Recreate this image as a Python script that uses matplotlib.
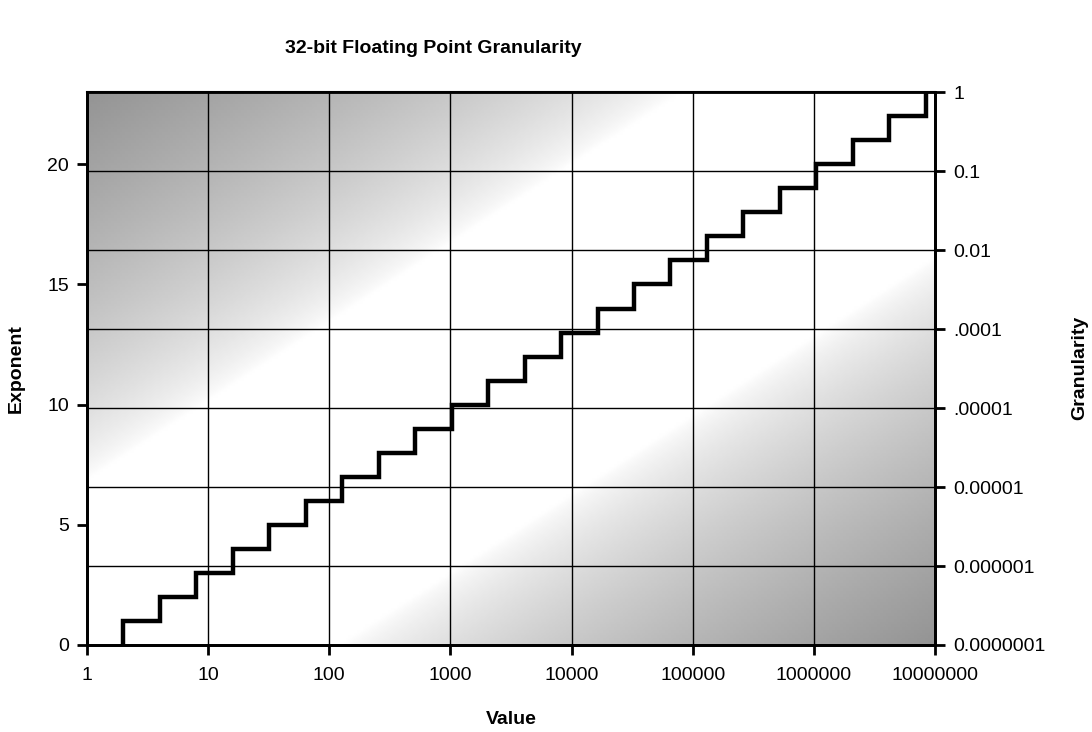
import numpy as np
import matplotlib
matplotlib.use("Agg")
import matplotlib.pyplot as plt
from matplotlib.ticker import FixedLocator, FixedFormatter

# Data
values = [2, 2, 4, 8, 16, 32, 64, 128, 256, 512, 1024, 2048, 4096, 8192, 16384,
          32768, 65536, 131072, 262144, 524288, 1048576, 2097152, 4194304, 8388608,
          8388608]
exponents = [0, 1, 2, 3, 4, 5, 6, 7, 8, 9, 10, 11, 12, 13, 14, 15, 16, 17, 18,
             19, 20, 21, 22, 23, 23]
x_ticks = [1, 10, 100, 1000, 10000, 100000, 1000000, 10000000]
x_labels = ["1", "10", "100", "1000", "10000", "100000", "1000000", "10000000"]
left_ticks = [0, 5, 10, 15, 20]
right_ticks = [1e-7, 1e-6, 1e-5, 1e-4, 1e-3, 1e-2, 1e-1, 1]
right_labels = ["0.0000001", "0.000001", "0.00001", ".00001", ".0001", "0.01", "0.1", "1"]

plt.rcParams['font.family'] = ['Liberation Sans', 'DejaVu Sans']

fig = plt.figure(figsize=(10.92, 7.32), dpi=100)
ax = fig.add_axes([0.0797, 0.1189, 0.7765, 0.7551])

# background shading (grey top-left and bottom-right, light diagonal band)
nx, ny = 300, 200
u = np.linspace(0, 1, nx)[None, :]
v = np.linspace(0, 1, ny)[:, None]
d = np.abs(v - u)
shade = np.clip((d - 0.3) / 0.7, 0, 1) ** 0.7
gray = 1 - 0.42 * shade
ax.imshow(gray, cmap='gray', vmin=0, vmax=1, extent=[0, 1, 0, 1],
          transform=ax.transAxes, origin='lower', aspect='auto', zorder=0,
          interpolation='bilinear')

ax.set_xscale('log')
ax.set_xlim(1, 10000000)
ax.set_ylim(0, 23)
ax.xaxis.set_major_locator(FixedLocator(x_ticks))
ax.xaxis.set_major_formatter(FixedFormatter(x_labels))
ax.xaxis.set_minor_locator(FixedLocator([]))
ax.set_yticks(left_ticks)
ax.grid(False)
for xt in x_ticks:
    ax.axvline(xt, color='black', lw=1.0, zorder=1)

ax.plot(values, exponents, drawstyle='steps-post', color='black', lw=3.2, zorder=3,
        solid_joinstyle='miter')

ax2 = ax.twinx()
ax2.set_yscale('log')
ax2.set_ylim(1e-7, 1)
ax2.yaxis.set_major_locator(FixedLocator(right_ticks))
ax2.yaxis.set_major_formatter(FixedFormatter(right_labels))
ax2.yaxis.set_minor_locator(FixedLocator([]))
for yt in right_ticks:
    ax2.axhline(yt, color='black', lw=1.0, zorder=1)

for a in (ax, ax2):
    for s in a.spines.values():
        s.set_linewidth(2.0)
    a.tick_params(axis='both', which='major', direction='out', length=7, width=2,
                  labelsize=14, pad=6)
ax.tick_params(axis='x', pad=9)
ax.spines['top'].set_linewidth(1.5)

ax.set_xlabel("Value", fontsize=14, fontweight='bold', labelpad=19)
ax.set_ylabel("Exponent", fontsize=14, fontweight='bold', labelpad=16)
fig.text(1080 / 1092, 1 - 368 / 732, "Granularity", fontsize=14, fontweight='bold',
         rotation=90, ha='center', va='center')
fig.text(0.397, 0.934, "32-bit Floating Point Granularity", fontsize=14,
         fontweight='bold', ha='center', va='center')

fig.savefig("out.png", dpi=100)
